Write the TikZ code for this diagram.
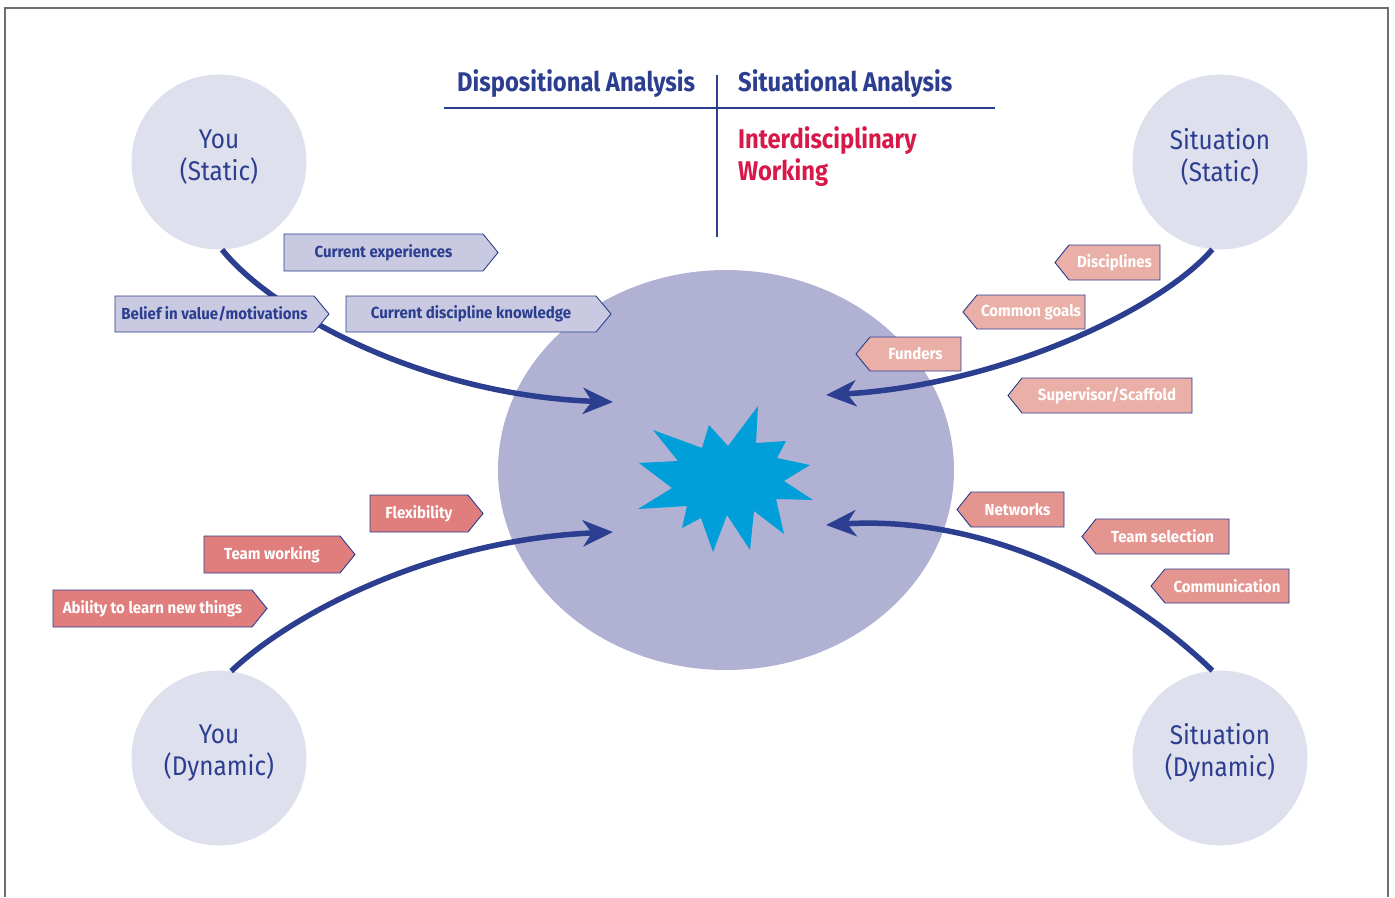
\documentclass[tikz,border=0pt]{standalone}
\usepackage{fontspec}
\setmainfont{Fira Sans}
\newfontfamily\condfont[FakeStretch=0.88]{Fira Sans}
\newfontfamily\tagfont[FakeStretch=0.94]{Fira Sans}
\newfontfamily\circfont[FakeStretch=0.9]{Fira Sans}
\usetikzlibrary{arrows.meta,shapes.geometric}
\definecolor{navy}{RGB}{43,62,143}
\definecolor{titlered}{RGB}{215,25,74}
\definecolor{hubcol}{RGB}{176,177,211}
\definecolor{circcol}{RGB}{223,224,238}
\definecolor{tagblue}{RGB}{201,202,226}
\definecolor{taglight}{RGB}{234,176,168}
\definecolor{tagmid}{RGB}{229,149,144}
\definecolor{tagred}{RGB}{223,126,124}
\definecolor{starcol}{RGB}{0,159,218}
\definecolor{framecol}{RGB}{110,110,110}
\newcommand\tagR[8]{%
  \draw[tagline, fill=#6] (#2,#3) -- ({#4-15},#3) -- (#4,{(#3+#5)/2}) -- ({#4-15},#5) -- (#2,#5) -- cycle;
  \node[tagtext, text=#7] (#1) at ({(#2+#4-15)/2},{(#3+#5)/2}) {#8};}
\newcommand\tagL[8]{%
  \draw[tagline, fill=#6] (#2,{(#3+#5)/2}) -- ({#2+14},#3) -- (#4,#3) -- (#4,#5) -- ({#2+14},#5) -- cycle;
  \node[tagtext, text=#7] (#1) at ({(#2+14+#4)/2},{(#3+#5)/2}) {#8};}
\begin{document}
\begin{tikzpicture}[x=1pt,y=-1pt,
  tagline/.style={draw=navy, line width=0.9pt},
  tagtext/.style={font=\tagfont\bfseries\fontsize{16}{18}\selectfont, inner sep=0pt},
  circ/.style={circle, fill=circcol, minimum size=175pt, inner sep=0pt},
  circtext/.style={font=\circfont\fontsize{27}{32}\selectfont, text=navy, align=center},
  title/.style={font=\condfont\bfseries\fontsize{27}{32}\selectfont, text=navy, anchor=base west, inner sep=0pt},
  conn/.style={draw=navy, line width=5.5pt, -{Stealth[length=30pt,width=26pt,inset=9pt]}},
  rule/.style={draw=navy, line width=2pt}]
\useasboundingbox (0,0) rectangle (1395,897);
\draw[framecol, line width=1.2pt] (5,897) -- (5,8) -- (1388,8) -- (1388,897);
% hub
\node[ellipse, fill=hubcol, minimum width=456pt, minimum height=400pt, inner sep=0pt] (hub) at (726,470) {};
% star
\fill[starcol] (758,406) -- (756,443) -- (786,441) -- (777,458) -- (810,465) -- (784,481)
  -- (813,500) -- (776,499) -- (784,534) -- (754,511) -- (750,550) -- (727,515)
  -- (713,552) -- (701,518) -- (682,528) -- (687,506) -- (638,509) -- (672,488)
  -- (639,463) -- (678,461) -- (653,430) -- (702,448) -- (709,425) -- (728,446) -- cycle;
% circles
\node[circ] (ys) at (219,162) {};
\node[circ] (ss) at (1220,162) {};
\node[circ] (yd) at (219,758) {};
\node[circ] (sd) at (1220,758) {};
\node[circtext] (yst) at (219,157) {You\\(Static)};
\node[circtext] (sst) at (1220,157) {Situation\\(Static)};
\node[circtext] (ydt) at (219,753) {You\\(Dynamic)};
\node[circtext] (sdt) at (1220,753) {Situation\\(Dynamic)};
% titles
\node[title] (da) at (457,91) {Dispositional Analysis};
\node[title] (sa) at (738,91) {Situational Analysis};
\node[title, text=titlered] (iw1) at (738,148) {Interdisciplinary};
\node[title, text=titlered] (iw2) at (738,180) {Working};
\coordinate (hl) at (444,108);
\coordinate (hr) at (995,108);
\coordinate (vt) at (717,75);
\coordinate (vb) at (717,237);
\draw[rule] (hl) -- (hr);
\draw[rule] (vt) -- (vb);
% connectors
\coordinate (t1) at (613,402);
\coordinate (t2) at (826,395);
\coordinate (t3) at (613,532);
\coordinate (t4) at (826,525);
\draw[conn] (ys.-88) .. controls (270,310) and (420,395) .. (t1);
\draw[conn] (ss.-95) .. controls (1160,310) and (1000,385) .. (t2);
\draw[conn] (yd.82) .. controls (290,615) and (430,540) .. (t3);
\draw[conn] (sd.95) .. controls (1130,590) and (990,515) .. (t4);
% tags top-left
\tagR{ce}{284}{234}{498}{271}{tagblue}{navy}{Current experiences}
\tagR{bv}{115}{296}{329}{332}{tagblue}{navy}{Belief in value/motivations}
\tagR{cd}{346}{296}{611}{332}{tagblue}{navy}{Current discipline knowledge}
% tags top-right
\tagL{di}{1055}{245}{1160}{280}{taglight}{white}{Disciplines}
\tagL{cg}{963}{295}{1085}{329}{taglight}{white}{Common goals}
\tagL{fu}{856}{337}{961}{371}{taglight}{white}{Funders}
\tagL{su}{1008}{378}{1192}{413}{taglight}{white}{Supervisor/Scaffold}
% tags bottom-right
\tagL{ne}{957}{492}{1064}{527}{tagmid}{white}{Networks}
\tagL{ts}{1082}{519}{1229}{554}{tagmid}{white}{Team selection}
\tagL{co}{1151}{569}{1289}{603}{tagmid}{white}{Communication}
% tags bottom-left
\tagR{fl}{370}{495}{483}{532}{tagred}{white}{Flexibility}
\tagR{tw}{204}{536}{355}{573}{tagred}{white}{Team working}
\tagR{ab}{53}{590}{267}{627}{tagred}{white}{Ability to learn new things}
\end{tikzpicture}
\end{document}
